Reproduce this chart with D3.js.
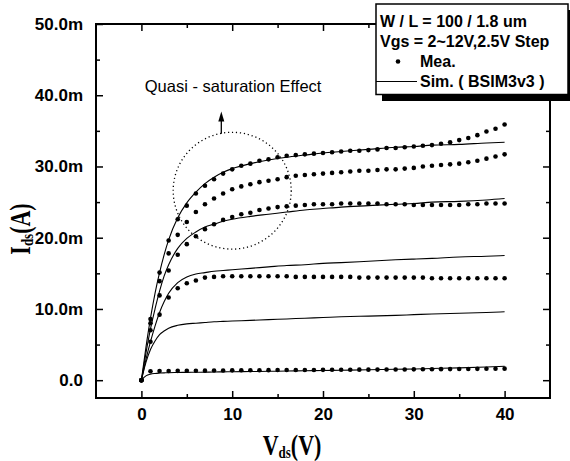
<!DOCTYPE html>
<html>
<head>
<meta charset="utf-8">
<script src="https://cdn.jsdelivr.net/npm/d3@7"></script>
<style>
body{margin:0;background:#fff}
</style>
</head>
<body>
<svg id="drawing_region"></svg>
<script>
// measured points, Vds step 1V
const vdsMea = [0,1,2,3,4,5,6,7,8,9,10,11,12,13,14,15,16,17,18,19,20,21,22,23,24,25,26,27,28,29,30,31,32,33,34,35,36,37,38,39,40]
// Ids in mA
const meaVgs12 = [0,8.6,15.1,19.6,22.6,24.5,26.2,27.3,28.2,29.0,29.6,30.1,30.4,30.8,31.0,31.3,31.5,31.6,31.7,31.8,31.9,32.0,32.1,32.2,32.2,32.3,32.4,32.6,32.6,32.7,32.8,32.9,33.0,33.2,33.4,33.7,34.0,34.4,34.9,35.3,35.9]
const meaVgs95 = [0,8.0,13.9,17.8,20.4,22.2,23.6,24.7,25.5,26.2,26.8,27.2,27.5,27.8,28.0,28.2,28.5,28.7,28.8,28.9,29.0,29.1,29.2,29.3,29.4,29.4,29.5,29.6,29.6,29.7,29.8,30.0,30.1,30.2,30.3,30.4,30.6,30.8,31.1,31.4,31.7]
const meaVgs7 = [0,7.0,11.9,15.4,17.6,19.1,20.2,21.2,21.9,22.5,22.9,23.3,23.5,23.9,24.1,24.3,24.4,24.5,24.6,24.7,24.7,24.7,24.8,24.8,24.8,24.8,24.8,24.7,24.7,24.7,24.6,24.6,24.6,24.6,24.6,24.6,24.7,24.7,24.8,24.8,24.8]
const meaVgs45 = [0,5.4,9.2,11.6,12.9,13.6,14.0,14.4,14.5,14.6,14.6,14.6,14.6,14.6,14.6,14.6,14.6,14.5,14.5,14.5,14.5,14.5,14.5,14.5,14.4,14.4,14.4,14.4,14.4,14.4,14.4,14.4,14.3,14.3,14.3,14.3,14.3,14.3,14.3,14.3,14.3]
const meaVgs2 = [0,1.26,1.28,1.30,1.31,1.32,1.33,1.34,1.35,1.36,1.38,1.39,1.40,1.40,1.41,1.42,1.42,1.43,1.44,1.44,1.45,1.46,1.46,1.47,1.48,1.48,1.49,1.50,1.50,1.51,1.52,1.53,1.54,1.55,1.56,1.57,1.58,1.59,1.60,1.61,1.62]

// BSIM3v3 simulation
const vdsSim = [0,0.5,1,1.5,2,2.5,3,4,5,6,7,8,9,10,12,14,16,18,20,22,25,28,30,32,35,38,40]
const simA = [0,4.6,8.7,12.2,15.1,17.6,19.7,22.8,24.9,26.4,27.6,28.5,29.2,29.7,30.4,30.9,31.3,31.6,31.9,32.1,32.4,32.7,32.8,33.0,33.1,33.3,33.4]
const simB = [0,3.8,7.2,10.0,12.5,14.6,16.2,18.5,19.9,20.8,21.5,21.9,22.3,22.6,23.0,23.3,23.6,23.9,24.1,24.3,24.5,24.7,24.8,25.0,25.1,25.3,25.5]
const simC = [0,2.9,5.4,7.6,9.5,11.0,12.2,13.7,14.5,14.9,15.1,15.3,15.4,15.5,15.7,15.9,16.1,16.2,16.4,16.5,16.7,16.9,17.0,17.1,17.3,17.4,17.5]
const simD = [0,2.5,4.3,5.5,6.4,6.9,7.3,7.7,7.9,8.0,8.1,8.2,8.25,8.3,8.4,8.5,8.6,8.7,8.8,8.9,9.0,9.1,9.2,9.3,9.4,9.5,9.6]
const simE = [0,0.6,0.85,0.95,1.0,1.03,1.05,1.08,1.1,1.12,1.13,1.15,1.17,1.18,1.21,1.25,1.28,1.32,1.36,1.40,1.46,1.53,1.58,1.64,1.73,1.85,1.95]

const xTicks = [0,10,20,30,40]
const xMinor = [5,15,25,35]
const yTicks = [0,10,20,30,40,50]
const yMinor = [5,15,25,35,45]

const legendLines = ['W / L = 100 / 1.8 um', 'Vgs = 2~12V,2.5V Step']
const legendMea = 'Mea.'
const legendSim = 'Sim. ( BSIM3v3 )'
const noteText = 'Quasi - saturation Effect'

class IVChart{
    constructor(config){
        this.config = {
            parent: config.parent,
            width: config.width || 570,
            height: config.height || 461,
            margin: config.margin || {top: 24, right: 20, bottom: 63, left: 96}
        }
        this.init()
    }

    init(){
        let self = this
        self.svg = d3.select(self.config.parent)
            .attr('width', self.config.width)
            .attr('height', self.config.height)

        self.inner_width = self.config.width - self.config.margin.left - self.config.margin.right
        self.inner_height = self.config.height - self.config.margin.top - self.config.margin.bottom

        self.chart = self.svg.append('g')
            .attr('transform', `translate(${self.config.margin.left},${self.config.margin.top})`)

        self.xscale = d3.scaleLinear().domain([-5, 45]).range([0, self.inner_width])
        self.yscale = d3.scaleLinear().domain([-2.5, 50]).range([self.inner_height, 0])

        self.line = d3.line()
            .x(d => self.xscale(d[0]))
            .y(d => self.yscale(d[1]))
            .curve(d3.curveMonotoneX)
    }

    render(){
        let self = this
        const font = "'Liberation Sans', Arial, sans-serif"
        const yfmt = d => d === 0 ? '0.0' : d.toFixed(1) + 'm'

        const styleAxis = g => {
            g.select('.domain').remove()
            g.selectAll('line').attr('stroke', '#000').attr('stroke-width', 1.5)
            g.selectAll('text').attr('fill', '#000')
                .style('font-family', font).style('font-size', '17px').style('font-weight', 'bold')
        }

        // major + minor ticks, pointing inward on all four sides
        self.chart.append('g').attr('transform', `translate(0,${self.inner_height})`)
            .call(d3.axisBottom(self.xscale).tickValues(xTicks).tickSize(-7).tickPadding(10))
            .call(styleAxis)
        self.chart.append('g').attr('transform', `translate(0,${self.inner_height})`)
            .call(d3.axisBottom(self.xscale).tickValues(xMinor).tickSize(-4).tickFormat(''))
            .call(styleAxis)
        self.chart.append('g')
            .call(d3.axisTop(self.xscale).tickValues(xTicks).tickSize(-7).tickFormat(''))
            .call(styleAxis)
        self.chart.append('g')
            .call(d3.axisTop(self.xscale).tickValues(xMinor).tickSize(-4).tickFormat(''))
            .call(styleAxis)
        self.chart.append('g')
            .call(d3.axisLeft(self.yscale).tickValues(yTicks).tickSize(-7).tickPadding(13).tickFormat(yfmt))
            .call(styleAxis)
        self.chart.append('g')
            .call(d3.axisLeft(self.yscale).tickValues(yMinor).tickSize(-4).tickFormat(''))
            .call(styleAxis)
        self.chart.append('g').attr('transform', `translate(${self.inner_width},0)`)
            .call(d3.axisRight(self.yscale).tickValues(yTicks).tickSize(-7).tickFormat(''))
            .call(styleAxis)
        self.chart.append('g').attr('transform', `translate(${self.inner_width},0)`)
            .call(d3.axisRight(self.yscale).tickValues(yMinor).tickSize(-4).tickFormat(''))
            .call(styleAxis)

        self.chart.append('rect')
            .attr('width', self.inner_width).attr('height', self.inner_height)
            .attr('fill', 'none').attr('stroke', '#000').attr('stroke-width', 2)

        // simulation curves
        const sims = [simA, simB, simC, simD, simE]
        self.chart.selectAll('.sim').data(sims).enter()
            .append('path')
            .attr('class', 'sim')
            .attr('d', s => self.line(vdsSim.map((v, i) => [v, s[i]])))
            .attr('fill', 'none')
            .attr('stroke', '#000')
            .attr('stroke-width', 1.1)

        // measured dots
        const meas = [meaVgs12, meaVgs95, meaVgs7, meaVgs45, meaVgs2]
        const pts = []
        meas.forEach(s => s.forEach((v, i) => pts.push([vdsMea[i], v])))
        self.chart.selectAll('.mea').data(pts).enter()
            .append('circle')
            .attr('class', 'mea')
            .attr('cx', d => self.xscale(d[0]))
            .attr('cy', d => self.yscale(d[1]))
            .attr('r', 2.3)
            .attr('fill', '#000')

        // quasi-saturation note
        const cx = self.xscale(10), cy = self.yscale(26.6)
        self.chart.append('ellipse')
            .attr('cx', cx).attr('cy', cy)
            .attr('rx', self.xscale(16.5) - cx)
            .attr('ry', self.yscale(18.4) - cy)
            .attr('fill', 'none').attr('stroke', '#000')
            .attr('stroke-width', 1.3).attr('stroke-dasharray', '1.2,2.8')

        const ax = self.xscale(8.8)
        const tip = self.yscale(37.7)
        self.chart.append('line')
            .attr('x1', ax).attr('x2', ax)
            .attr('y1', self.yscale(34.6)).attr('y2', tip + 8)
            .attr('stroke', '#000').attr('stroke-width', 1.3)
        self.chart.append('path')
            .attr('d', `M${ax},${tip}L${ax - 3},${tip + 10}L${ax + 3},${tip + 10}Z`)
            .attr('fill', '#000')

        self.chart.append('text')
            .attr('x', self.xscale(10.1)).attr('y', self.yscale(40.5))
            .attr('text-anchor', 'middle')
            .style('font-family', font).style('font-size', '16.5px')
            .text(noteText)

        // axis titles (Times bold, stretched vertically like the original)
        const xt = self.svg.append('text')
            .attr('transform', 'translate(292,455) scale(1,1.35)')
            .attr('text-anchor', 'middle')
            .style('font-family', "'Liberation Serif', 'Times New Roman', serif")
            .style('font-weight', 'bold').style('font-size', '22px')
        xt.append('tspan').text('V')
        xt.append('tspan').attr('dy', 2).style('font-size', '13px').text('ds')
        xt.append('tspan').attr('dy', -2).text('(V)')

        const yt = self.svg.append('text')
            .attr('transform', 'translate(30,229) rotate(-90) scale(1,1.35)')
            .attr('text-anchor', 'middle')
            .style('font-family', "'Liberation Serif', 'Times New Roman', serif")
            .style('font-weight', 'bold').style('font-size', '22px')
        yt.append('tspan').text('I')
        yt.append('tspan').attr('dy', 2).style('font-size', '13px').text('ds')
        yt.append('tspan').attr('dy', -2).text('(A)')

        // legend box with shadow
        const lg = self.svg.append('g').attr('transform', 'translate(376,4)')
        lg.append('rect').attr('x', 6).attr('y', 6).attr('width', 192).attr('height', 91).attr('fill', '#000')
        lg.append('rect').attr('width', 192).attr('height', 90.5)
            .attr('fill', '#fff').attr('stroke', '#000').attr('stroke-width', 1.5)
        const lt = (x, y, s) => lg.append('text').attr('x', x).attr('y', y)
            .style('font-family', font).style('font-size', '16px').style('font-weight', 'bold')
            .text(s)
        lt(4, 23, legendLines[0])
        lt(4, 42.5, legendLines[1])
        lg.append('circle').attr('cx', 22).attr('cy', 57.5).attr('r', 2.3).attr('fill', '#000')
        lt(44, 62.5, legendMea)
        lg.append('line').attr('x1', 0).attr('x2', 41).attr('y1', 77.5).attr('y2', 77.5)
            .attr('stroke', '#000').attr('stroke-width', 1.1)
        lt(44, 82.5, legendSim)
    }
}

const chart = new IVChart({parent: '#drawing_region', width: 570, height: 461})
chart.render()
</script>
</body>
</html>
